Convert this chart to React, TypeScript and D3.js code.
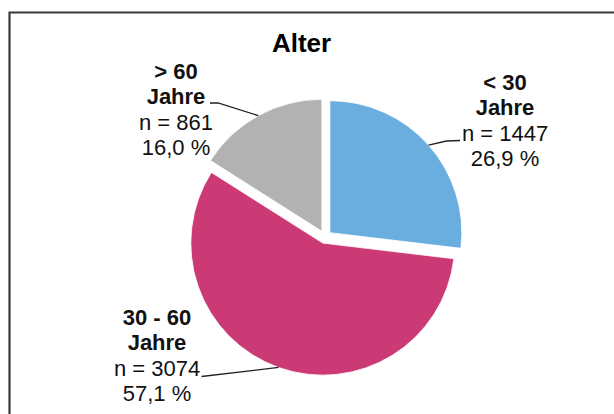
import React from "react";
import * as d3 from "d3";

// Altersgruppen und Fallzahlen
const groups = ["< 30", "30 - 60", "> 60"];
const counts = [1447, 3074, 861];
const colors = ["#6aaee0", "#cc3a76", "#b2b2b2"];

// Beschriftungs-Layout je Gruppe: Textmitte, erste Grundlinie, Knick und Ende der Führungslinie
const labelLayout = [
  { cx: 505, y0: 90, elbow: [446.5, 141], end: [460, 140.5] },
  { cx: 157, y0: 325, elbow: [201.5, 376.5], end: [201.5, 376.5] },
  { cx: 176, y0: 79, elbow: [218, 103], end: [210, 103] },
];

const W = 614;
const H = 414;
const center = { x: 325, y: 237 };
const radius = 132;
const explode = 6.5;
const lineGap = 25.3;
const font = "'Liberation Sans', Arial, sans-serif";

export default function App() {
  const total = d3.sum(counts);
  const pie = d3
    .pie<number>()
    .sort(null)
    .startAngle(0)
    .endAngle(2 * Math.PI)
    .value((d) => d);
  const arcs = pie(counts);
  const arc = d3.arc<d3.PieArcDatum<number>>().innerRadius(0).outerRadius(radius);
  const pct = (v: number) =>
    d3.format(".1f")((v / total) * 100).replace(".", ",") + " %";

  return (
    <svg
      width={W}
      height={H}
      style={{ position: "absolute", left: 0, top: 0, background: "#fff" }}
    >
      {/* Rahmen */}
      <path d={`M9.5,${H} V12.5 H${W}`} fill="none" stroke="#3a3a3a" strokeWidth={2.2} />
      <text
        x={301.5}
        y={51.5}
        textAnchor="middle"
        fontFamily={font}
        fontWeight="bold"
        fontSize={26}
        fill="#000"
      >
        Alter
      </text>
      <g transform={`translate(${center.x},${center.y})`}>
        {arcs.map((a, i) => {
          const mid = (a.startAngle + a.endAngle) / 2;
          const ox = Math.sin(mid) * explode;
          const oy = -Math.cos(mid) * explode;
          return (
            <path
              key={groups[i]}
              d={arc(a) ?? ""}
              transform={`translate(${ox},${oy})`}
              fill={colors[i]}
              stroke="#fff"
              strokeWidth={0.8}
            />
          );
        })}
      </g>
      {arcs.map((a, i) => {
        const mid = (a.startAngle + a.endAngle) / 2;
        const r = radius + explode;
        const sx = center.x + Math.sin(mid) * r;
        const sy = center.y - Math.cos(mid) * r;
        const L = labelLayout[i];
        const lines = [
          { t: groups[i], b: true },
          { t: "Jahre", b: true },
          { t: `n = ${counts[i]}`, b: false },
          { t: pct(counts[i]), b: false },
        ];
        return (
          <g key={"lab" + i}>
            <polyline
              points={`${sx},${sy} ${L.elbow[0]},${L.elbow[1]} ${L.end[0]},${L.end[1]}`}
              fill="none"
              stroke="#222"
              strokeWidth={1.3}
            />
            {lines.map((ln, k) => (
              <text
                key={k}
                x={L.cx}
                y={L.y0 + k * lineGap}
                textAnchor="middle"
                fontFamily={font}
                fontSize={22}
                fontWeight={ln.b ? "bold" : "normal"}
                fill="#111"
              >
                {ln.t}
              </text>
            ))}
          </g>
        );
      })}
    </svg>
  );
}
